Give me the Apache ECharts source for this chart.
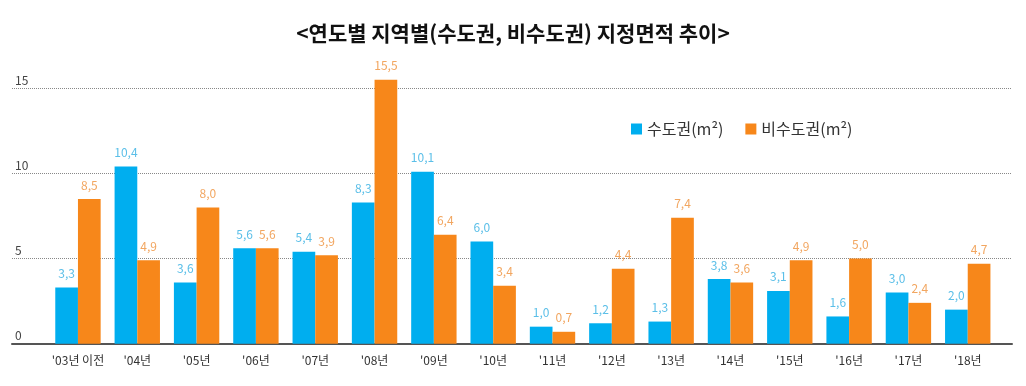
<!DOCTYPE html>
<html><head><meta charset="utf-8">
<script src="https://cdn.jsdelivr.net/npm/echarts@6/dist/echarts.min.js"></script>
<style>html,body{margin:0;padding:0;background:#fff}#c{width:1026px;height:386px}</style>
</head><body><div id="c"></div>
<script>
var categories = ["'03년 이전","'04년","'05년","'06년","'07년","'08년","'09년","'10년","'11년","'12년","'13년","'14년","'15년","'16년","'17년","'18년"];
var metroValues = [3.3,10.4,3.6,5.6,5.4,8.3,10.1,6.0,1.0,1.2,1.3,3.8,3.1,1.6,3.0,2.0];
var nonMetroValues = [8.5,4.9,8.0,5.6,5.2,15.5,6.4,3.4,0.7,4.4,7.4,3.6,4.9,5.0,2.4,4.7];
var metroLabels = [3.3,10.4,3.6,5.6,5.4,8.3,10.1,6.0,1.0,1.2,1.3,3.8,3.1,1.6,3.0,2.0];
var nonMetroLabels = [8.5,4.9,8.0,5.6,3.9,15.5,6.4,3.4,0.7,4.4,7.4,3.6,4.9,5.0,2.4,4.7];
var yTicks = {min: 0, max: 15, interval: 5};
var seriesNames = ['수도권(m²)', '비수도권(m²)'];

var FONT = '"Noto Sans CJK KR", "Noto Sans", sans-serif';
function fmt(v){ return v.toFixed(1).replace('.', ','); }
var chart = echarts.init(document.getElementById('c'));
var gTop = 88.3, gBottom = 42.3;
chart.setOption({
  animation: false,
  textStyle: {fontFamily: FONT},
  title: {text: '<연도별 지역별(수도권, 비수도권) 지정면적 추이>', left: 'center', top: 18,
    textStyle: {fontSize: 21, fontWeight: 'bold', color: '#111', fontFamily: FONT}},
  legend: {left: 626, top: 116, itemWidth: 11, itemHeight: 11, itemGap: 22, icon: 'rect',
    textStyle: {fontSize: 16, color: '#333', fontFamily: FONT},
    data: seriesNames},
  grid: [
    {left: 12, right: 14, top: gTop, bottom: gBottom},
    {left: 48.3, right: 28.6, top: gTop, bottom: gBottom}
  ],
  xAxis: [
    {gridIndex: 0, type: 'value', min: 0, max: 1, axisLabel: {show: false}, axisTick: {show: false},
      splitLine: {show: false}, axisLine: {show: true, lineStyle: {color: '#555', width: 2}}},
    {gridIndex: 1, type: 'category', data: categories, axisLine: {show: false}, axisTick: {show: false},
      axisLabel: {interval: 0, color: '#333', fontSize: 12, margin: 11, fontFamily: FONT}}
  ],
  yAxis: [
    {gridIndex: 0, type: 'value', min: yTicks.min, max: yTicks.max, interval: yTicks.interval,
      axisLine: {show: false}, axisTick: {show: false},
      axisLabel: {inside: true, margin: 3, verticalAlign: 'bottom', color: '#444', fontSize: 12, padding: [0,0,2,0]},
      splitLine: {show: true, lineStyle: {type: 'dotted', color: '#888', width: 1}}},
    {gridIndex: 1, type: 'value', min: yTicks.min, max: yTicks.max, interval: yTicks.interval, show: false,
      splitLine: {show: false}}
  ],
  series: [
    {name: seriesNames[0], type: 'bar', xAxisIndex: 1, yAxisIndex: 1, data: metroValues, clip: false,
      barGap: '0%', barCategoryGap: '23.5%', itemStyle: {color: '#00AEEF'},
      label: {show: true, position: 'top', distance: 8, color: '#5bbfe8', fontSize: 12,
        formatter: function(p){ return fmt(metroLabels[p.dataIndex]); }}},
    {name: seriesNames[1], type: 'bar', xAxisIndex: 1, yAxisIndex: 1, data: nonMetroValues, clip: false,
      barGap: '0%', barCategoryGap: '23.5%', itemStyle: {color: '#F7871A'},
      label: {show: true, position: 'top', distance: 8, color: '#f2a660', fontSize: 12,
        formatter: function(p){ return fmt(nonMetroLabels[p.dataIndex]); }}}
  ]
});
</script></body></html>
